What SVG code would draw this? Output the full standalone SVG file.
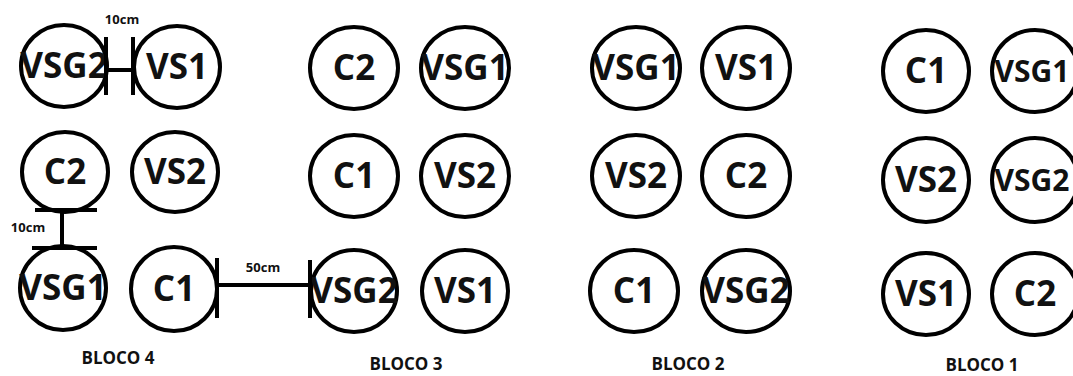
<svg xmlns="http://www.w3.org/2000/svg" width="1073" height="376" viewBox="0 0 1073 376">
<style>
.n ellipse{fill:none;stroke:#000;stroke-width:4}
.n text{font-family:"Open Sans","Liberation Sans",sans-serif;font-weight:bold;font-size:35px;fill:#111;text-anchor:middle}
.n text.sm{font-size:30px}
.c line{stroke:#000;stroke-width:4}
.lbl{font-family:"Open Sans","Liberation Sans",sans-serif;font-weight:bold;font-size:13px;fill:#111;text-anchor:middle}
.blk{font-family:"Open Sans","Liberation Sans",sans-serif;font-weight:bold;font-size:17px;fill:#111;text-anchor:middle}
</style>
<rect width="1073" height="376" fill="#fff"/>
<!-- BLOCO 4 -->
<g id="b4-vsg2" class="n"><ellipse cx="64" cy="66" rx="43" ry="41"/><text x="64" y="78">VSG2</text></g>
<g id="b4-vs1" class="n"><ellipse cx="177" cy="67" rx="43" ry="41"/><text x="177" y="79">VS1</text></g>
<g id="b4-c2" class="n"><ellipse cx="65" cy="172" rx="43" ry="40"/><text x="65" y="184">C2</text></g>
<g id="b4-vs2" class="n"><ellipse cx="175" cy="172" rx="43" ry="40"/><text x="175" y="184">VS2</text></g>
<g id="b4-vsg1" class="n"><ellipse cx="63" cy="288" rx="43" ry="42"/><text x="63" y="300">VSG1</text></g>
<g id="b4-c1" class="n"><ellipse cx="174" cy="289" rx="43" ry="42"/><text x="174" y="301">C1</text></g>
<!-- BLOCO 3 -->
<g id="b3-c2" class="n"><ellipse cx="354" cy="68" rx="44" ry="41"/><text x="354" y="80">C2</text></g>
<g id="b3-vsg1" class="n"><ellipse cx="465" cy="68" rx="44" ry="41"/><text x="465" y="80">VSG1</text></g>
<g id="b3-c1" class="n"><ellipse cx="354" cy="176" rx="44" ry="41"/><text x="354" y="188">C1</text></g>
<g id="b3-vs2" class="n"><ellipse cx="465" cy="176" rx="44" ry="41"/><text x="465" y="188">VS2</text></g>
<g id="b3-vsg2" class="n"><ellipse cx="354" cy="291" rx="43" ry="41"/><text x="354" y="303">VSG2</text></g>
<g id="b3-vs1" class="n"><ellipse cx="465" cy="291" rx="43" ry="41"/><text x="465" y="303">VS1</text></g>
<!-- BLOCO 2 -->
<g id="b2-vsg1" class="n"><ellipse cx="636" cy="68" rx="44" ry="41"/><text x="636" y="80">VSG1</text></g>
<g id="b2-vs1" class="n"><ellipse cx="746" cy="68" rx="44" ry="41"/><text x="746" y="80">VS1</text></g>
<g id="b2-vs2" class="n"><ellipse cx="636" cy="176" rx="44" ry="41"/><text x="636" y="188">VS2</text></g>
<g id="b2-c2" class="n"><ellipse cx="746" cy="176" rx="44" ry="41"/><text x="746" y="188">C2</text></g>
<g id="b2-c1" class="n"><ellipse cx="634" cy="291" rx="44" ry="41"/><text x="634" y="303">C1</text></g>
<g id="b2-vsg2" class="n"><ellipse cx="746" cy="291" rx="44" ry="41"/><text x="746" y="303">VSG2</text></g>
<!-- BLOCO 1 -->
<g id="b1-c1" class="n"><ellipse cx="926" cy="71" rx="43" ry="41"/><text x="926" y="83">C1</text></g>
<g id="b1-vsg1" class="n"><ellipse cx="1035" cy="71" rx="43" ry="41"/><text class="sm" x="1032" y="82">VSG1</text></g>
<g id="b1-vs2" class="n"><ellipse cx="926" cy="180" rx="43" ry="42"/><text x="926" y="192">VS2</text></g>
<g id="b1-vsg2" class="n"><ellipse cx="1035" cy="180" rx="43" ry="42"/><text class="sm" x="1032" y="191">VSG2</text></g>
<g id="b1-vs1" class="n"><ellipse cx="926" cy="294" rx="43" ry="41"/><text x="926" y="306">VS1</text></g>
<g id="b1-c2" class="n"><ellipse cx="1035" cy="294" rx="43" ry="41"/><text x="1035" y="306">C2</text></g>
<!-- connectors / dimension marks -->
<g id="connectors" class="c">
<line x1="106" y1="37" x2="106" y2="95"/>
<line x1="133" y1="37" x2="133" y2="95"/>
<line x1="106" y1="70" x2="133" y2="70"/>
<line x1="35" y1="210" x2="97" y2="210"/>
<line x1="62" y1="210" x2="62" y2="248"/>
<line x1="32" y1="248" x2="97" y2="248"/>
<line x1="217" y1="258" x2="217" y2="318"/>
<line x1="217" y1="285" x2="310" y2="285"/>
<line x1="310" y1="260" x2="310" y2="318"/>
</g>
<text class="lbl" x="122" y="24">10cm</text>
<text class="lbl" x="28" y="232">10cm</text>
<text class="lbl" x="263" y="272">50cm</text>
<text class="blk" x="118" y="364">BLOCO 4</text>
<text class="blk" x="406" y="370">BLOCO 3</text>
<text class="blk" x="688" y="370">BLOCO 2</text>
<text class="blk" x="982" y="371">BLOCO 1</text>
</svg>
